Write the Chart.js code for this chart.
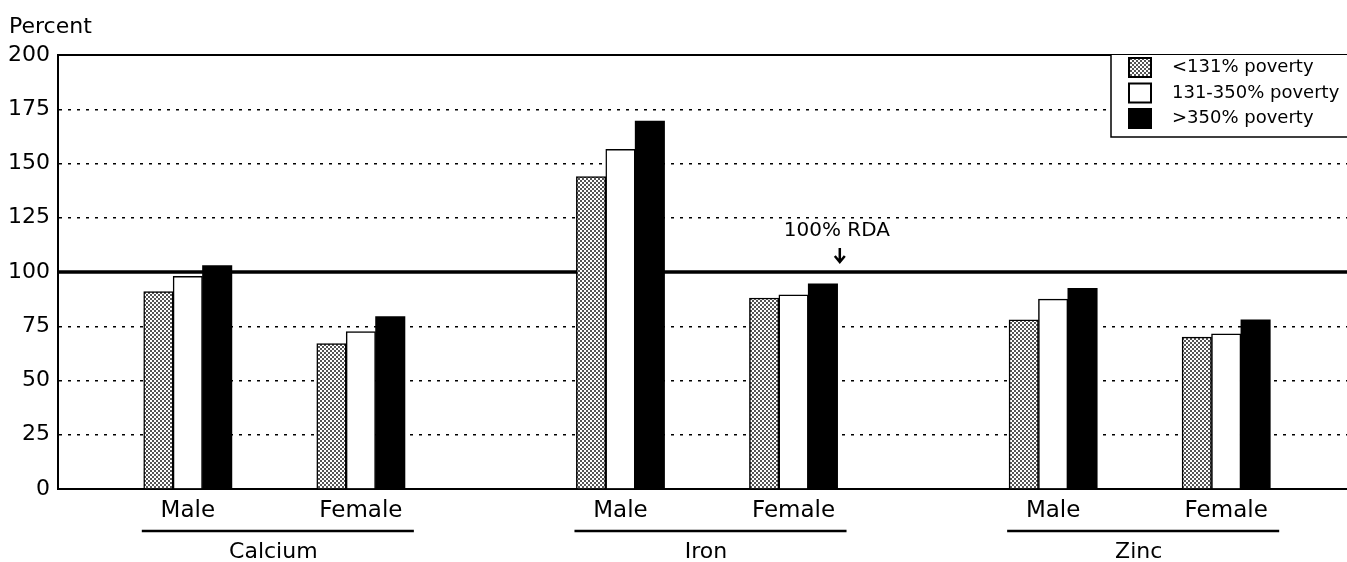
<!DOCTYPE html>
<html>
<head>
<meta charset="utf-8">
<script src="https://cdn.jsdelivr.net/npm/chart.js@4/dist/chart.umd.min.js"></script>
<style>
  html, body { margin: 0; padding: 0; background: #fff; overflow: hidden; }
  canvas { display: block; }
</style>
</head>
<body>
<canvas id="rdaChart" width="1358" height="562"></canvas>
<script>
// nutrient groups and the two bar clusters inside each
var nutrients = ["Calcium", "Iron", "Zinc"];
var sexes = ["Male", "Female"];

// percent of RDA, order: Calcium M, Calcium F, Iron M, Iron F, Zinc M, Zinc F
var below131 = [91, 67, 144, 88, 78, 70];
var from131to350 = [98, 72.5, 156.5, 89.5, 87.5, 71.5];
var above350 = [103, 79.5, 169.5, 94.5, 92.5, 78];

var seriesNames = ["<131% poverty", "131-350% poverty", ">350% poverty"];

// y axis
var yMin = 0;
var yMax = 200;
var yStep = 25;
var rdaLevel = 100;
var rdaLabel = "100% RDA";
var yTitle = "Percent";

var FONT = "'DejaVu Sans', 'Liberation Sans', Arial, sans-serif";

// stipple pattern for the grey bars
function dotPattern() {
    var c = document.createElement('canvas');
    c.width = 4;
    c.height = 4;
    var p = c.getContext('2d');
    p.fillStyle = '#fff';
    p.fillRect(0, 0, 4, 4);
    p.fillStyle = '#555';
    p.fillRect(0, 0, 2, 2);
    p.fillRect(2, 2, 2, 2);
    return document.getElementById('rdaChart').getContext('2d').createPattern(c, 'repeat');
}
var dots = dotPattern();

// build category slots: blank slots give the spacing between clusters
var labels = [""];
var slotOf = []; // slot index of each value
nutrients.forEach(function (n) {
    slotOf.push(labels.length);
    labels.push(sexes[0]);
    labels.push("");
    slotOf.push(labels.length);
    labels.push(sexes[1]);
    labels.push("");
    labels.push("");
});
labels.pop();

function spread(values) {
    var out = labels.map(function () { return null; });
    values.forEach(function (v, i) { out[slotOf[i]] = v; });
    return out;
}

var fills = [dots, '#ffffff', '#000000'];

// draws the title, the RDA line, the top border, the legend and the group labels
var decorations = {
    id: 'decorations',
    beforeDatasetsDraw: function (chart) {
        var ctx = chart.ctx;
        var area = chart.chartArea;
        var y = chart.scales.y;
        var x = chart.scales.x;
        ctx.save();
        // top border
        ctx.strokeStyle = '#000';
        ctx.lineWidth = 2;
        ctx.beginPath();
        ctx.moveTo(area.left, y.getPixelForValue(yMax));
        ctx.lineTo(chart.width, y.getPixelForValue(yMax));
        ctx.stroke();
        // RDA line
        var ry = y.getPixelForValue(rdaLevel);
        ctx.lineWidth = 3.5;
        ctx.beginPath();
        ctx.moveTo(area.left, ry);
        ctx.lineTo(chart.width, ry);
        ctx.stroke();
        // RDA label and arrow
        var lx = (x.getPixelForValue(8) + x.getPixelForValue(9)) / 2;
        ctx.fillStyle = '#000';
        ctx.font = '20px ' + FONT;
        ctx.textAlign = 'center';
        ctx.textBaseline = 'alphabetic';
        ctx.fillText(rdaLabel, lx, ry - 36);
        ctx.lineWidth = 2.5;
        ctx.beginPath();
        ctx.moveTo(lx + 3, ry - 24);
        ctx.lineTo(lx + 3, ry - 11);
        ctx.moveTo(lx - 2, ry - 16);
        ctx.lineTo(lx + 3, ry - 10);
        ctx.lineTo(lx + 8, ry - 16);
        ctx.stroke();
        ctx.restore();
    },
    afterDraw: function (chart) {
        var ctx = chart.ctx;
        var area = chart.chartArea;
        var x = chart.scales.x;
        ctx.save();
        ctx.fillStyle = '#000';
        ctx.strokeStyle = '#000';

        // title
        ctx.font = '22px ' + FONT;
        ctx.textAlign = 'left';
        ctx.textBaseline = 'alphabetic';
        ctx.fillText(yTitle, 9, 33);

        // group underline + name
        nutrients.forEach(function (n, g) {
            var a = x.getPixelForValue(slotOf[g * 2]);
            var b = x.getPixelForValue(slotOf[g * 2 + 1]);
            ctx.lineWidth = 2.5;
            ctx.beginPath();
            ctx.moveTo(a - 46, area.bottom + 42);
            ctx.lineTo(b + 53, area.bottom + 42);
            ctx.stroke();
            ctx.font = '22px ' + FONT;
            ctx.textAlign = 'center';
            ctx.textBaseline = 'middle';
            ctx.fillText(n, (a + b) / 2 - 1, area.bottom + 63);
        });

        // legend box
        var bx = 1111, by = area.top, bh = 82;
        ctx.fillStyle = '#fff';
        ctx.fillRect(bx, by, chart.width - bx, bh);
        ctx.lineWidth = 1.5;
        ctx.beginPath();
        ctx.moveTo(bx, by);
        ctx.lineTo(bx, by + bh);
        ctx.lineTo(chart.width, by + bh);
        ctx.stroke();
        seriesNames.forEach(function (name, i) {
            var sy = by + 2 + i * 25.5;
            ctx.fillStyle = fills[i];
            ctx.fillRect(1128, sy, 24, 21);
            ctx.lineWidth = 2;
            ctx.strokeStyle = '#000';
            ctx.strokeRect(1129, sy + 1, 22, 19);
            ctx.fillStyle = '#000';
            ctx.font = '18px ' + FONT;
            ctx.textAlign = 'left';
            ctx.textBaseline = 'middle';
            ctx.fillText(name, 1172, sy + 10.5);
        });
        ctx.restore();
    }
};

var ctx = document.getElementById('rdaChart').getContext('2d');
var chart = new Chart(ctx, {
    type: 'bar',
    data: {
        labels: labels,
        datasets: [{
            label: seriesNames[0],
            data: spread(below131),
            backgroundColor: fills[0],
            borderColor: '#000',
            borderWidth: 1.5
        }, {
            label: seriesNames[1],
            data: spread(from131to350),
            backgroundColor: fills[1],
            borderColor: '#000',
            borderWidth: 1.5
        }, {
            label: seriesNames[2],
            data: spread(above350),
            backgroundColor: fills[2],
            borderColor: '#000',
            borderWidth: 0
        }]
    },
    options: {
        responsive: false,
        animation: false,
        barThickness: 29.4,
        layout: {
            padding: { top: 55, right: 2, bottom: 0, left: 0 }
        },
        plugins: {
            legend: { display: false },
            tooltip: { enabled: false }
        },
        scales: {
            x: {
                offset: true,
                grid: { display: false, drawTicks: false },
                border: { display: true, color: '#000', width: 2 },
                ticks: {
                    autoSkip: false,
                    maxRotation: 0,
                    color: '#000',
                    padding: 8,
                    font: { family: FONT, size: 23 }
                },
                afterFit: function (scale) { scale.height = 73; }
            },
            y: {
                min: yMin,
                max: yMax,
                grid: {
                    drawTicks: false,
                    lineWidth: 1.5,
                    color: function (c) {
                        var v = c.tick ? c.tick.value : 0;
                        if (v === yMin || v === yMax || v === rdaLevel) return 'rgba(0,0,0,0)';
                        return '#000';
                    }
                },
                border: { display: true, color: '#000', width: 2, dash: [3, 6] },
                ticks: {
                    stepSize: yStep,
                    color: '#000',
                    padding: 8,
                    font: { family: FONT, size: 22 }
                },
                afterFit: function (scale) { scale.width = 58; }
            }
        }
    },
    plugins: [decorations]
});
</script>
</body>
</html>
